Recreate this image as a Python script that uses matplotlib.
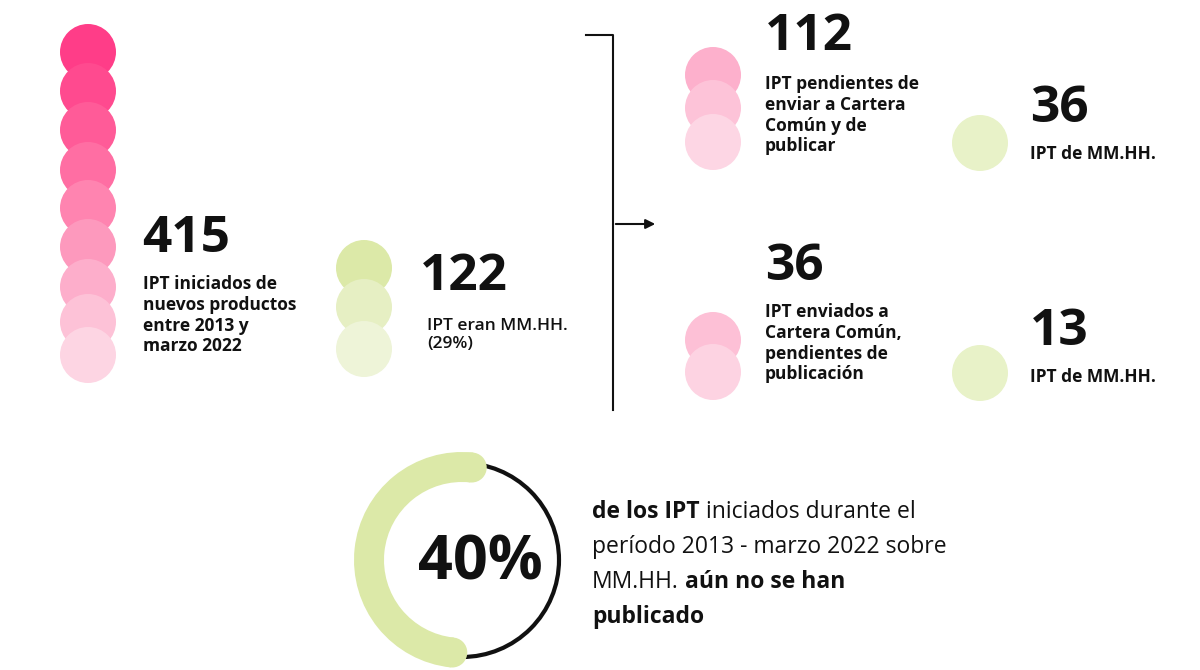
import matplotlib
matplotlib.use("Agg")
import matplotlib.pyplot as plt
from matplotlib.patches import Circle, Wedge
import numpy as np

# data
total = 415
total_mmhh = 122
pct_mmhh = 29
pending_send = 112
pending_send_mmhh = 36
sent_pending = 36
sent_pending_mmhh = 13
pct_unpublished = 40
ring_share = 0.5  # visual share of the ring drawn green

pink_left = ["#ff3d88", "#ff4a8f", "#ff5b98", "#ff6ea3", "#ff84b0", "#fd99bd", "#fdaecb", "#fdc2d7", "#fdd5e3"]
green_mid = ["#dce9a8", "#e6efc3", "#eef4d8"]
pink_top = ["#fdb0cc", "#fdc3d8", "#fdd6e4"]
pink_bot = ["#fdc0d6", "#fdd3e2"]
light_green = "#e8f2c8"

fig = plt.figure(figsize=(12, 6.7), dpi=100)
ax = fig.add_axes([0, 0, 1, 1])
ax.set_xlim(0, 1200)
ax.set_ylim(670, 0)
ax.set_aspect("equal")
ax.axis("off")

font = "Open Sans"
R = 28

def stack(x, ys, colors):
    for y, c in zip(ys, colors):
        ax.add_patch(Circle((x, y), R, color=c, lw=0))

stack(88, [52, 91, 130, 170, 208, 247, 287, 322, 355], pink_left)
stack(364, [268, 307, 349], green_mid)
stack(713, [75, 108, 142], pink_top)
stack(713, [340, 372], pink_bot)
ax.add_patch(Circle((980, 143), R, color=light_green, lw=0))
ax.add_patch(Circle((980, 373), R, color=light_green, lw=0))

def big(x, y, s):
    ax.text(x, y, s, fontsize=37, fontweight="bold", family=font, va="baseline", color="#111111")

def label(x, y, s):
    ax.text(x, y, s, fontsize=12.5, fontweight="bold", family=font, va="top", linespacing=1.2, color="#111111")

big(142, 252, str(total))
label(143, 275, "IPT iniciados de\nnuevos productos\nentre 2013 y\nmarzo 2022")
big(420, 290, str(total_mmhh))
ax.text(427, 318, "IPT eran MM.HH.\n(%d%%)" % pct_mmhh, fontsize=12.5, fontweight="semibold", family=font,
        va="top", linespacing=1.2, color="#111111")
big(765, 50, str(pending_send))
label(765, 75, "IPT pendientes de\nenviar a Cartera\nComún y de\npublicar")
big(1030, 122, str(pending_send_mmhh))
label(1030, 145, "IPT de MM.HH.")
big(765, 280, str(sent_pending))
label(765, 303, "IPT enviados a\nCartera Común,\npendientes de\npublicación")
big(1030, 345, str(sent_pending_mmhh))
label(1030, 368, "IPT de MM.HH.")

# bracket and arrow
ax.plot([586, 613, 613], [35, 35, 410], color="#111111", lw=1.5)
ax.annotate("", xy=(658, 224), xytext=(613, 224),
            arrowprops=dict(arrowstyle="-|>", color="#111111", lw=1.5, mutation_scale=14))

# donut
cx, cy = 462, 560
ax.add_patch(Circle((cx, cy), 97, fill=False, ec="#111111", lw=3))
start = 84
span = 360 * ring_share
ax.add_patch(Wedge((cx, cy), 108, -(start + span), -start, width=30, color="#dce9a8", lw=0))
for a in (start, start + span):
    r = 93
    ax.add_patch(Circle((cx + r * np.cos(np.radians(a)), cy - r * np.sin(np.radians(a))), 15, color="#dce9a8", lw=0))
ax.text(cx + 18, cy + 4, "%d%%" % pct_unpublished, fontsize=44, fontweight="bold", family=font,
        ha="center", va="center", color="#111111")

# mixed-weight paragraph
fig.canvas.draw()
rend = fig.canvas.get_renderer()
lines = [[("de los IPT", "bold"), (" iniciados durante el", "normal")],
         [("período 2013 - marzo 2022 sobre", "normal")],
         [("MM.HH.", "normal"), (" aún no se han", "bold")],
         [("publicado", "bold")]]
y = 518
for ln in lines:
    x = 592
    for s, w in ln:
        t = ax.text(x, y, s, fontsize=16.5, fontweight=w, family=font, va="baseline", color="#111111")
        x += t.get_window_extent(rend).width
    y += 35

fig.savefig("out.png", dpi=100, facecolor="white")
